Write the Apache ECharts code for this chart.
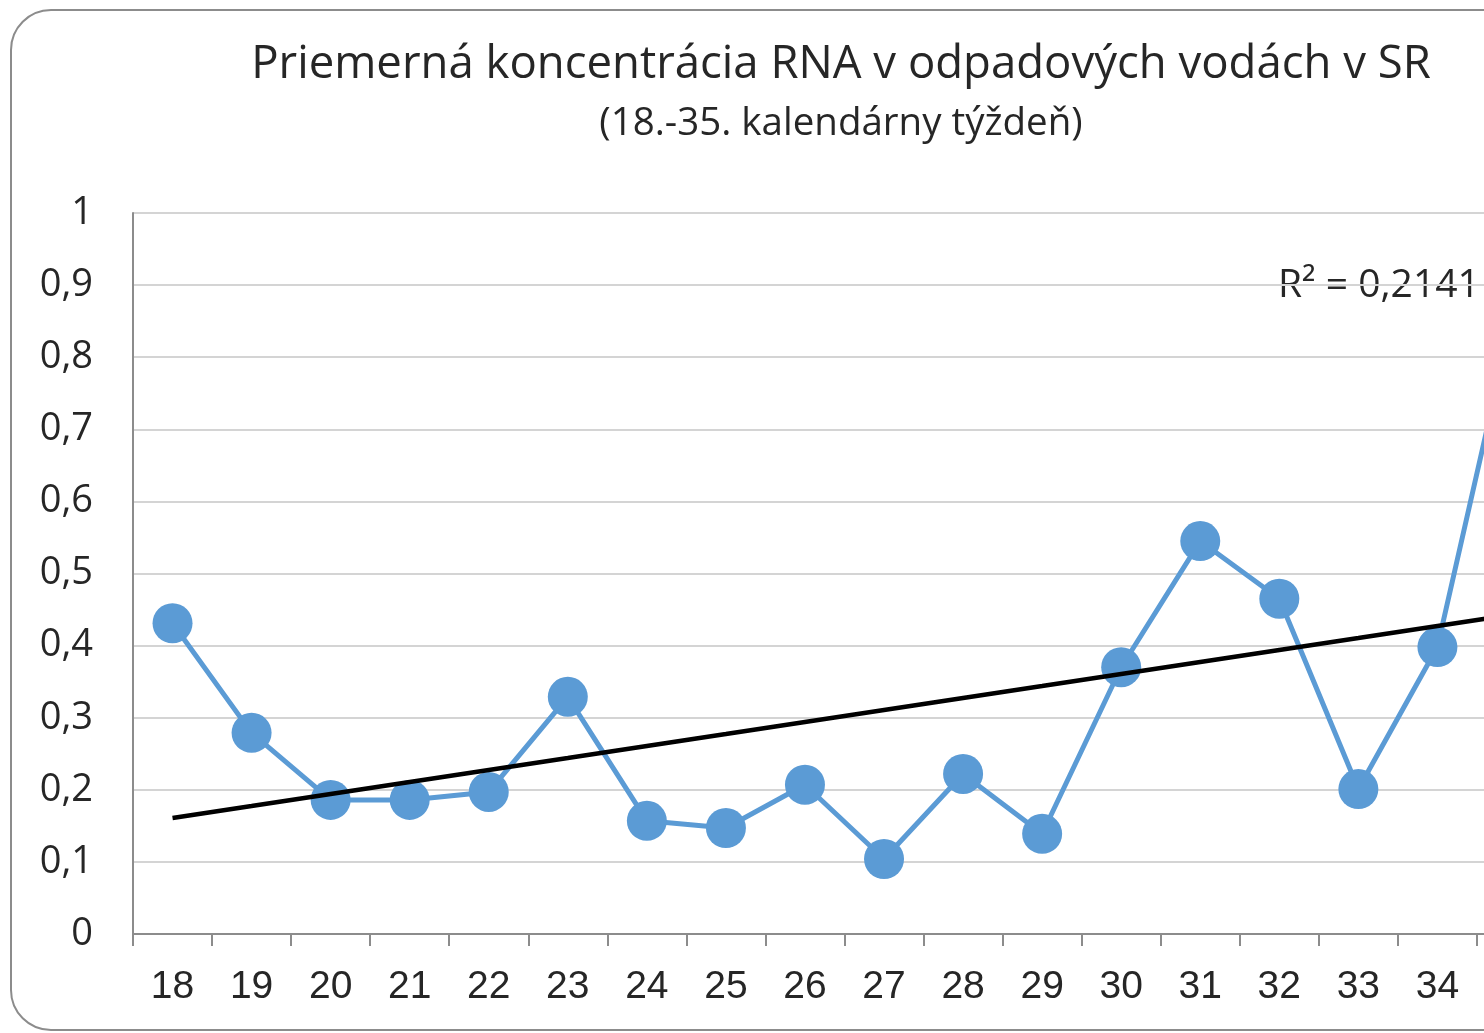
<!DOCTYPE html>
<html>
<head>
<meta charset="utf-8">
<script src="https://cdn.jsdelivr.net/npm/echarts@6/dist/echarts.min.js"></script>
<style>
  html, body { margin: 0; padding: 0; overflow: hidden; background: #fff; }
  #main { width: 1682px; height: 1033px; }
</style>
</head>
<body>
<div id="main"></div>
<script>
// kalendárne týždne a priemerná koncentrácia RNA
var weeks = ['18','19','20','21','22','23','24','25','26','27','28','29','30','31','32','33','34','35'];
var rna = [0.431, 0.279, 0.186, 0.186, 0.197, 0.329, 0.157, 0.147, 0.207, 0.104, 0.222, 0.139, 0.370, 0.545, 0.465, 0.201, 0.398, 0.88];
var r2Label = 'R² = 0,2141';

// lineárny trend (metóda najmenších štvorcov)
var n = rna.length, mx = (n - 1) / 2, my = 0;
rna.forEach(function (v) { my += v / n; });
var sxy = 0, sxx = 0;
rna.forEach(function (v, i) { sxy += (i - mx) * (v - my); sxx += (i - mx) * (i - mx); });
var slope = sxy / sxx, icpt = my - slope * mx;
var trend = rna.map(function (v, i) { return +(icpt + slope * i).toFixed(4); });

var chart = echarts.init(document.getElementById('main'));
var option = {
  animation: false,
  title: {
    text: 'Priemerná koncentrácia RNA v odpadových vodách v SR',
    subtext: '(18.-35. kalendárny týždeň)',
    left: 'center',
    top: 37,
    itemGap: 17,
    textStyle: { fontFamily: 'Open Sans', fontSize: 45.5, fontWeight: 'normal', color: '#262626' },
    subtextStyle: { fontFamily: 'Open Sans', fontSize: 38.5, color: '#262626' }
  },
  graphic: [
    {
      type: 'rect',
      shape: { x: 11, y: 10, width: 1640, height: 1020, r: 40 },
      style: { fill: 'none', stroke: '#8c8c8c', lineWidth: 2 },
      z: -1
    },
    {
      type: 'text',
      left: 1278,
      top: 266,
      style: { text: r2Label, fontFamily: 'Open Sans', fontSize: 39, fill: '#262626' }
    }
  ],
  grid: { left: 133, top: 213, width: 1423, height: 721 },
  xAxis: {
    type: 'category',
    data: weeks,
    boundaryGap: true,
    axisLine: { lineStyle: { color: '#8c8c8c', width: 2 } },
    axisTick: { show: true, length: 12, lineStyle: { color: '#8c8c8c', width: 2 } },
    axisLabel: { margin: 34, fontFamily: 'Liberation Sans', fontSize: 39, color: '#262626' }
  },
  yAxis: {
    type: 'value',
    min: 0,
    max: 1,
    interval: 0.1,
    axisLine: { show: true, lineStyle: { color: '#8c8c8c', width: 2 } },
    axisTick: { show: false },
    splitLine: { lineStyle: { color: '#d4d4d4', width: 2 } },
    axisLabel: {
      margin: 40,
      fontFamily: 'Open Sans',
      fontSize: 38,
      color: '#262626',
      formatter: function (v) { return String(+v.toFixed(1)).replace('.', ','); }
    }
  },
  series: [
    {
      name: 'RNA',
      type: 'line',
      data: rna,
      symbol: 'circle',
      symbolSize: 40,
      lineStyle: { color: '#5b9bd5', width: 5 },
      itemStyle: { color: '#5b9bd5' },
      z: 2
    },
    {
      name: 'Lineárny trend',
      type: 'line',
      data: trend,
      symbol: 'none',
      lineStyle: { color: '#000', width: 4.5 },
      z: 3
    }
  ]
};
chart.setOption(option);
</script>
</body>
</html>
